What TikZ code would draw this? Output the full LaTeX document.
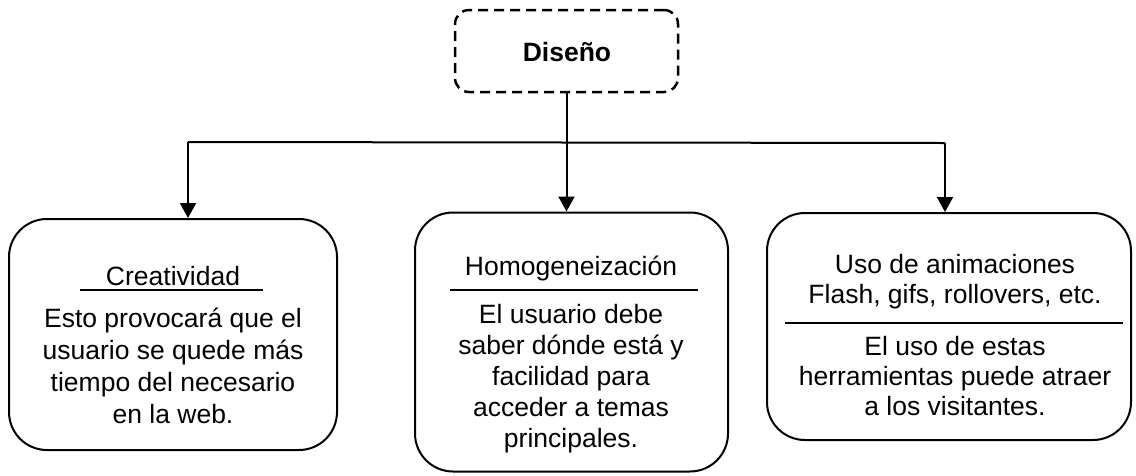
\documentclass[tikz,border=0pt]{standalone}
\usepackage{fontspec}
\setmainfont{Liberation Sans}
\usetikzlibrary{arrows.meta}
\tikzset{
  bigbox/.style={draw=black, line width=2pt, rounded corners=38pt, inner sep=0pt},
  topbox/.style={draw=black, line width=2.5pt, rounded corners=14pt, dash pattern=on 10pt off 6pt, inner sep=0pt},
  txt/.style={align=center, inner sep=0pt, font=\fontsize{26.5}{32}\selectfont},
  conn/.style={line width=2pt, -{Triangle[length=15pt,width=16pt]}},
  bar/.style={line width=2pt},
  rule/.style={line width=1.5pt}
}
\begin{document}
\begin{tikzpicture}[x=1pt,y=-1pt]
\useasboundingbox (0,0) rectangle (1136,475);
% boxes
\node[topbox, minimum width=223pt, minimum height=82pt] (dis) at (566.5,51) {};
\node[txt, font=\fontsize{26.5}{32}\selectfont\bfseries] (distxt) at (567,52) {Diseño};
\node[bigbox, minimum width=328pt, minimum height=231pt] (creat) at (173,334.5) {};
\node[bigbox, minimum width=313pt, minimum height=259pt] (homo) at (571.5,342) {};
\node[bigbox, minimum width=364pt, minimum height=227pt] (uso) at (949,326.5) {};
% texts
\node[txt] (t1) at (173,276) {Creatividad};
\node[txt] (b1) at (173,366) {Esto provocará que el\\usuario se quede más\\tiempo del necesario\\en la web.};
\node[txt] (t2) at (571,268) {Homogeneización};
\node[txt, font=\fontsize{26.5}{31}\selectfont] (b2) at (571,379) {El usuario debe\\saber dónde está y\\facilidad para\\acceder a temas\\principales.};
\node[txt, font=\fontsize{26.5}{30}\selectfont] (t3) at (955,282) {Uso de animaciones\\Flash, gifs, rollovers, etc.};
\node[txt, font=\fontsize{26.5}{30}\selectfont] (b3) at (955,376) {El uso de estas\\herramientas puede atraer\\a los visitantes.};
% rules
\draw[rule] (80,290) -- (263,290);
\draw[rule] (450,290) -- (698,290);
\draw[rule] (785,323) -- (1123,323);
% connectors
\coordinate (barL) at (188,142);
\coordinate (barR) at (945,143);
\draw[bar] (barL) -- (barR);
\draw[conn] (barL) -- (barL |- creat.north);
\draw[conn] (dis.south) -- (dis.south |- homo.north);
\draw[conn] (barR) -- (barR |- uso.north);
\end{tikzpicture}
\end{document}
